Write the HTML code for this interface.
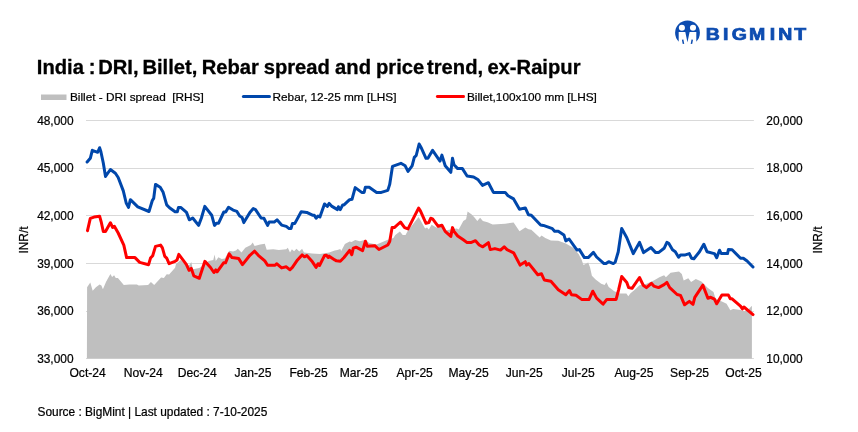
<!DOCTYPE html>
<html lang="en"><head><meta charset="utf-8"><title>India : DRI, Billet, Rebar spread and price trend, ex-Raipur</title>
<style>
html,body{margin:0;padding:0;background:#fff;}
body{width:858px;height:432px;overflow:hidden;font-family:"Liberation Sans",sans-serif;}
svg{display:block;}
text{font-family:"Liberation Sans",sans-serif;fill:#000;stroke:#000;stroke-width:0.22px;}
.ax{font-size:11.9px;}
.lg{font-size:11.8px;}
</style></head><body>
<svg width="858" height="432" viewBox="0 0 858 432">
<rect width="858" height="432" fill="#fff"/>
<g id="logo">
<circle cx="687.5" cy="32.8" r="12.4" fill="#0d4cb0"/>
<circle cx="681.9" cy="27.7" r="3.05" fill="#fff"/>
<circle cx="693" cy="27.7" r="3.05" fill="#fff"/>
<path d="M678.7 32.1 H685.3 L687.45 42.2 L689.6 32.1 H696.3 V46 H678.7 Z" fill="#fff"/>
<path d="M681.9 39.8 L683.4 39.6 L684.4 45 L682.9 45 Z M693 39.8 L691.5 39.6 L690.5 45 L692 45 Z" fill="#0d4cb0"/>
<rect x="674" y="43.9" width="27" height="4" fill="#fff"/>
<text transform="translate(705.8,40.3) scale(1.22,1)" x="0.00 14.02 21.23 35.33 52.46 59.34 72.46" y="0" style="font-size:16px;font-weight:bold;fill:#0d4cb0;stroke:#0d4cb0;stroke-width:0.7px">BIGMINT</text>
</g>
<text y="73.7" style="font-size:20.2px;font-weight:bold;fill:#000;stroke-width:0.3px"><tspan x="36.8">India </tspan><tspan x="88.8">: </tspan><tspan x="98.2">DRI, </tspan><tspan x="142.4">Billet, </tspan><tspan x="201.7">Rebar </tspan><tspan x="263.7">spread </tspan><tspan x="335.1">and </tspan><tspan x="376.0">price </tspan><tspan x="427.0">trend, </tspan><tspan x="487.4">ex-Raipur</tspan></text>
<rect x="41" y="94.5" width="25.5" height="5.5" fill="#bfbfbf"/>
<text class="lg" x="70" y="100.8">Billet - DRI spread&#160; [RHS]</text>
<line x1="243.4" y1="96.5" x2="269.5" y2="96.5" stroke="#0047ab" stroke-width="3" stroke-linecap="round"/>
<text class="lg" x="272.5" y="100.8">Rebar, 12-25 mm [LHS]</text>
<line x1="437.3" y1="96.6" x2="463.5" y2="96.5" stroke="#ff0000" stroke-width="3" stroke-linecap="round"/>
<text class="lg" x="467" y="100.8">Billet,100x100 mm [LHS]</text>
<line x1="86" y1="120.5" x2="753.9" y2="120.5" stroke="#d9d9d9" stroke-width="1"/>
<line x1="86" y1="168.5" x2="753.9" y2="168.5" stroke="#d9d9d9" stroke-width="1"/>
<line x1="86" y1="215.5" x2="753.9" y2="215.5" stroke="#d9d9d9" stroke-width="1"/>
<line x1="86" y1="263.5" x2="753.9" y2="263.5" stroke="#d9d9d9" stroke-width="1"/>
<line x1="86" y1="311.5" x2="753.9" y2="311.5" stroke="#d9d9d9" stroke-width="1"/>
<line x1="86" y1="358.5" x2="753.9" y2="358.5" stroke="#d9d9d9" stroke-width="1"/>
<polygon points="86.9,358.4 87.1,287.3 90.3,282.6 92.7,290.7 95.9,287.3 99.6,284.5 101.4,285.4 102.9,289.2 106.1,281.7 110.4,273.9 112.1,277.0 114.1,275.2 115.8,278.0 117.9,278.0 123.8,285.1 129.4,284.5 136.9,284.5 138.7,285.4 148.1,284.9 150.9,282.1 154.2,284.9 161.1,277.6 163.9,278.0 166.7,274.2 169.1,274.6 175.1,267.7 176.0,264.0 180.7,260.0 184.4,263.7 189.1,265.6 191.3,261.9 192.8,269.3 199.3,268.0 203.0,265.6 208.7,260.9 213.3,260.0 214.6,254.4 215.8,260.9 218.4,257.2 221.7,259.1 224.8,258.5 229.2,250.7 233.0,251.5 236.0,250.6 237.8,248.7 241.5,252.5 245.3,247.8 250.9,245.0 252.7,242.6 254.6,246.0 260.2,244.5 264.8,243.7 266.7,249.7 273.2,249.3 278.8,250.0 286.3,249.3 287.8,247.8 290.0,252.5 291.9,249.3 294.1,251.2 296.5,248.7 299.3,251.5 302.1,248.7 304.0,252.5 312.0,253.5 320.0,254.0 329.2,252.5 334.8,250.6 337.5,250.0 340.3,249.1 341.2,251.0 344.9,243.9 349.6,241.6 351.5,242.0 355.2,240.1 359.8,241.2 365.4,239.8 369.2,243.1 376.6,244.4 387.8,239.8 393.4,237.9 395.3,235.1 399.9,231.4 402.7,235.1 405.5,235.1 408.0,230.4 413.9,223.0 418.6,217.0 425.1,228.6 427.0,227.6 428.8,229.5 431.6,224.8 436.3,227.6 441.9,226.7 445.6,230.4 450.3,229.5 456.8,228.6 458.7,229.5 463.3,221.1 466.1,219.2 467.6,211.4 471.7,214.6 474.5,217.4 477.3,221.1 480.1,217.8 482.9,221.1 487.5,222.2 492.7,224.5 505.2,223.7 513.6,222.6 519.5,231.2 525.3,227.4 528.5,229.3 531.3,229.7 539.7,237.5 541.5,235.5 545.3,238.1 550.9,240.6 558.3,240.8 565.8,243.5 573.2,247.7 578.8,254.2 581.6,259.8 583.5,265.1 588.2,262.6 590.0,267.3 591.9,275.7 595.6,279.4 601.2,283.7 604.6,285.0 606.4,282.2 608.7,286.9 614.3,291.2 619.9,293.4 626.4,293.4 628.3,296.2 630.5,293.2 634.8,289.7 639.5,285.2 646.0,284.0 653.8,280.5 659.4,277.2 664.1,275.3 665.9,277.2 670.6,272.7 679.0,271.6 681.8,274.0 683.7,280.5 688.3,278.3 691.1,282.0 695.8,279.0 701.4,281.4 705.1,285.2 707.9,288.0 713.5,292.1 715.4,298.2 718.2,300.1 721.9,301.4 726.6,303.8 730.3,310.3 733.1,308.9 740.5,310.0 744.3,311.3 748.9,308.9 751.9,305.7 751.9,358.4" fill="#bfbfbf"/>
<polyline points="87.1,162.0 90.3,158.3 92.3,150.3 97.7,152.3 99.6,147.7 100.9,151.8 103.3,163.0 105.5,176.4 110.4,169.5 115.4,173.2 118.2,177.5 123.3,190.9 126.2,203.0 128.5,207.4 130.4,199.7 137.8,206.8 149.0,211.5 152.4,200.3 153.7,198.4 155.5,184.4 160.2,187.2 163.0,191.9 166.7,204.9 169.5,207.7 175.1,211.8 177.3,211.8 178.5,207.4 180.7,207.4 186.5,212.4 189.3,219.8 192.7,218.0 198.6,225.4 201.4,218.0 204.8,206.4 211.7,215.2 214.5,225.4 216.4,223.2 218.6,223.2 223.8,212.0 225.7,212.0 228.5,207.2 233.1,210.1 236.9,211.4 239.7,216.1 242.1,217.6 243.8,222.6 249.9,212.4 253.3,208.6 255.5,209.6 261.1,218.0 263.9,218.3 267.6,225.4 269.1,222.1 274.2,222.1 277.0,219.8 281.6,225.1 286.3,226.4 289.1,228.6 291.0,228.6 292.4,223.6 294.7,223.6 301.2,211.8 306.8,212.4 312.4,215.2 314.3,215.2 316.1,218.3 318.0,216.1 319.9,217.0 324.5,204.0 327.3,206.4 329.2,203.4 332.0,206.4 337.5,209.6 338.4,206.8 340.3,209.6 342.7,204.9 344.0,204.9 349.6,199.7 352.0,199.3 355.2,187.6 361.7,192.4 364.1,192.4 365.4,187.2 369.2,187.2 376.6,192.4 381.3,192.4 387.8,190.4 389.7,184.4 392.5,166.3 400.9,163.3 405.2,165.8 408.0,171.4 412.1,165.8 414.3,157.4 416.2,155.5 419.1,144.0 421.4,148.1 426.0,158.3 427.9,158.3 432.6,150.3 440.0,161.1 441.9,155.1 445.2,165.8 450.8,172.3 452.5,158.3 454.0,164.8 457.7,168.6 462.4,168.6 467.1,176.0 473.6,177.0 478.2,179.8 482.5,185.4 488.4,182.7 493.4,192.4 505.2,192.4 508.0,195.7 513.6,198.9 519.5,209.2 525.3,207.9 528.5,214.8 531.3,215.3 540.6,225.0 543.4,225.4 552.4,228.7 554.6,231.2 558.3,231.2 563.9,234.9 565.8,240.9 569.1,239.0 577.0,250.1 579.4,249.6 584.4,257.6 588.2,257.6 593.4,252.4 596.6,257.0 604.0,263.6 606.0,263.6 608.7,261.7 613.3,263.6 615.2,262.1 618.2,252.0 621.7,228.4 626.8,237.7 633.3,253.6 639.5,242.4 643.6,252.6 651.0,247.6 655.7,252.6 658.5,252.6 664.1,248.3 666.9,242.4 668.7,243.3 672.5,249.8 675.3,251.7 678.6,257.3 680.5,255.1 684.6,255.1 689.3,253.6 691.5,258.2 693.9,258.8 699.5,251.7 703.8,244.2 707.0,251.7 714.4,253.6 716.7,257.7 719.5,250.2 721.3,253.6 727.5,253.6 728.4,249.5 732.1,249.8 740.5,258.2 743.3,258.2 747.1,261.0 753.0,267.0" fill="none" stroke="#0047ab" stroke-width="3" stroke-linejoin="round" stroke-linecap="round"/>
<polyline points="87.5,230.7 90.3,218.4 94.0,217.1 99.6,216.2 101.4,222.7 103.3,231.5 105.5,231.5 110.4,222.7 112.6,227.4 114.5,226.4 118.2,233.0 123.8,245.1 126.6,257.6 135.0,257.6 139.7,262.4 148.6,264.7 150.5,258.1 152.7,255.7 155.5,246.4 160.6,245.1 162.4,247.9 164.8,256.3 166.7,258.1 169.1,263.7 175.1,261.3 177.0,260.0 178.8,254.4 186.3,264.3 189.1,270.3 191.3,268.4 193.8,275.9 199.3,278.3 204.9,261.3 210.5,267.5 213.9,272.5 215.8,269.9 217.1,271.8 223.6,262.8 225.5,262.8 229.2,253.9 232.0,257.6 238.7,258.6 242.5,264.6 249.9,255.3 254.6,251.2 258.3,255.3 264.8,260.9 267.6,265.2 275.1,265.2 276.6,263.7 281.6,267.9 286.3,266.8 290.0,269.8 292.4,267.4 297.5,259.9 302.1,254.9 304.4,256.8 306.8,255.6 312.4,261.8 316.1,267.4 318.0,263.7 319.5,265.5 324.5,255.6 326.4,255.3 328.3,257.5 329.2,256.2 334.8,259.9 336.5,260.8 340.3,261.2 344.0,257.5 349.6,250.4 351.8,254.7 353.3,248.1 356.1,247.2 362.6,250.6 365.4,241.2 367.3,246.3 374.8,245.7 378.9,249.5 387.8,245.0 389.7,241.6 392.1,227.6 394.3,227.6 400.5,222.0 404.6,227.6 408.0,228.9 418.6,208.1 420.4,210.9 426.0,223.3 428.8,222.6 430.7,218.3 432.6,218.9 438.2,226.3 441.9,225.2 445.2,231.4 450.8,236.4 452.5,227.6 454.0,231.4 457.7,236.0 463.3,239.8 467.1,242.6 470.8,242.6 475.5,240.7 479.2,245.0 482.8,246.8 488.4,242.7 490.3,249.6 494.9,248.6 500.5,250.1 504.2,246.8 507.0,249.6 513.6,252.8 520.1,265.1 525.3,261.7 526.6,265.1 528.9,263.6 537.8,274.8 541.5,273.8 544.3,280.0 550.9,281.3 558.3,289.7 565.8,294.7 569.5,290.6 571.4,294.7 576.0,295.3 581.6,299.4 589.1,299.4 592.8,291.2 596.6,298.1 603.1,304.2 606.8,299.4 616.1,299.4 618.6,289.8 621.7,276.5 626.8,282.4 628.6,287.6 632.0,288.3 639.5,277.5 643.2,285.2 646.4,287.6 651.4,283.3 653.8,286.1 658.5,287.6 664.1,284.6 666.9,282.4 669.7,287.6 677.1,294.5 680.5,295.4 684.6,304.8 689.3,301.4 693.0,304.4 694.8,297.3 702.9,285.2 707.9,298.2 710.7,297.3 714.4,299.2 716.7,303.8 721.9,295.1 728.4,295.1 730.3,298.8 732.1,298.8 740.5,306.2 742.4,308.9 743.9,307.0 753.0,314.6" fill="none" stroke="#ff0000" stroke-width="3" stroke-linejoin="round" stroke-linecap="round"/>
<text class="ax" x="73.5" y="124.8" text-anchor="end">48,000</text>
<text class="ax" x="766.3" y="124.8">20,000</text>
<text class="ax" x="73.5" y="171.8" text-anchor="end">45,000</text>
<text class="ax" x="766.3" y="171.8">18,000</text>
<text class="ax" x="73.5" y="219.8" text-anchor="end">42,000</text>
<text class="ax" x="766.3" y="219.8">16,000</text>
<text class="ax" x="73.5" y="267.8" text-anchor="end">39,000</text>
<text class="ax" x="766.3" y="267.8">14,000</text>
<text class="ax" x="73.5" y="314.8" text-anchor="end">36,000</text>
<text class="ax" x="766.3" y="314.8">12,000</text>
<text class="ax" x="73.5" y="362.8" text-anchor="end">33,000</text>
<text class="ax" x="766.3" y="362.8">10,000</text>
<text class="ax" style="font-size:12.1px" x="87.6" y="377.3" text-anchor="middle">Oct-24</text>
<text class="ax" style="font-size:12.1px" x="143.3" y="377.3" text-anchor="middle">Nov-24</text>
<text class="ax" style="font-size:12.1px" x="197.2" y="377.3" text-anchor="middle">Dec-24</text>
<text class="ax" style="font-size:12.1px" x="252.9" y="377.3" text-anchor="middle">Jan-25</text>
<text class="ax" style="font-size:12.1px" x="308.6" y="377.3" text-anchor="middle">Feb-25</text>
<text class="ax" style="font-size:12.1px" x="358.9" y="377.3" text-anchor="middle">Mar-25</text>
<text class="ax" style="font-size:12.1px" x="414.7" y="377.3" text-anchor="middle">Apr-25</text>
<text class="ax" style="font-size:12.1px" x="468.6" y="377.3" text-anchor="middle">May-25</text>
<text class="ax" style="font-size:12.1px" x="524.3" y="377.3" text-anchor="middle">Jun-25</text>
<text class="ax" style="font-size:12.1px" x="578.2" y="377.3" text-anchor="middle">Jul-25</text>
<text class="ax" style="font-size:12.1px" x="633.9" y="377.3" text-anchor="middle">Aug-25</text>
<text class="ax" style="font-size:12.1px" x="689.6" y="377.3" text-anchor="middle">Sep-25</text>
<text class="ax" style="font-size:12.1px" x="743.5" y="377.3" text-anchor="middle">Oct-25</text>
<text class="ax" transform="translate(28.1,240) rotate(-90)" text-anchor="middle">INR/t</text>
<text class="ax" transform="translate(821.5,240) rotate(-90)" text-anchor="middle">INR/t</text>
<text x="37.5" y="416.3" style="font-size:11.9px">Source : BigMint | Last updated : 7-10-2025</text>
</svg>
</body></html>
